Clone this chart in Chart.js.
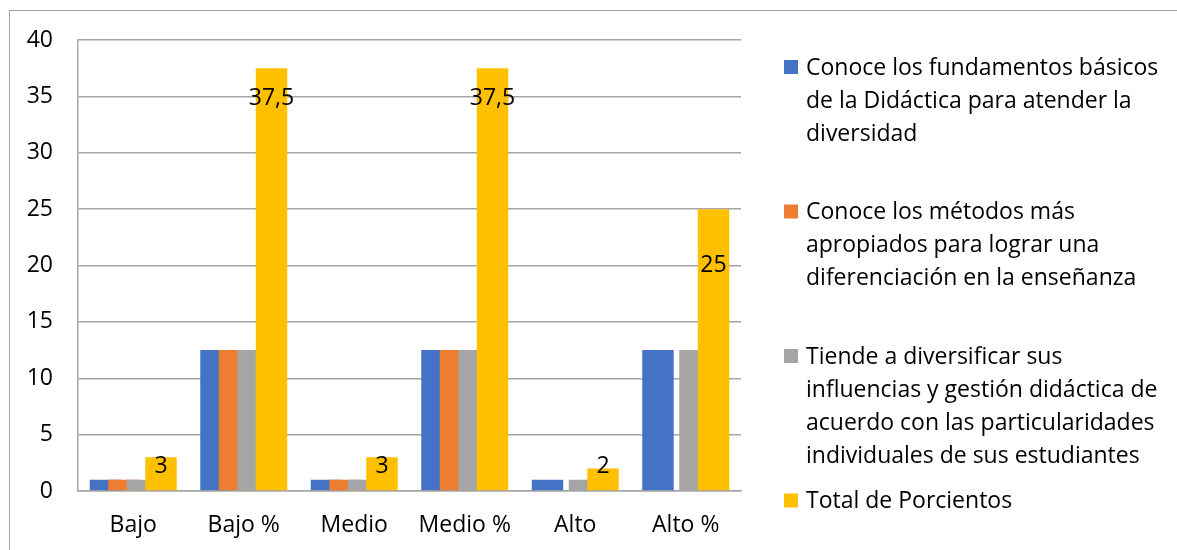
<!DOCTYPE html>
<html>
<head>
<meta charset="utf-8">
<script src="https://cdn.jsdelivr.net/npm/chart.js@4"></script>
<style>
  html, body { margin: 0; padding: 0; background: #fff; }
  #wrap { position: relative; width: 1177px; height: 550px; }
  #frame { position: absolute; left: 9px; top: 10px; right: -2px; bottom: -2px; border: 1px solid #a6a6a6; }
  canvas { position: absolute; left: 0; top: 0; }
</style>
</head>
<body>
<div id="wrap">
  <div id="frame"></div>
  <canvas id="grafico" width="1177" height="550"></canvas>
</div>
<script>
const categorias = ["Bajo", "Bajo %", "Medio", "Medio %", "Alto", "Alto %"];

const fundamentos = [1, 12.5, 1, 12.5, 1, 12.5];
const metodos = [1, 12.5, 1, 12.5, 0, 0];
const diversificar = [1, 12.5, 1, 12.5, 1, 12.5];
const totalPorcientos = [3, 37.5, 3, 37.5, 2, 25];

const yTicks = [0, 5, 10, 15, 20, 25, 30, 35, 40];

// texto de la leyenda, partido como en el original
const leyenda = [
    ["Conoce los fundamentos básicos", "de la Didáctica para atender la", "diversidad"],
    ["Conoce los métodos más", "apropiados para lograr una", "diferenciación en la enseñanza"],
    ["Tiende a diversificar sus", "influencias y gestión didáctica de", "acuerdo con las particularidades", "individuales de sus estudiantes"],
    ["Total de Porcientos"]
];

const colores = ["#4472C4", "#ED7D31", "#A5A5A5", "#FFC000"];
// desplazamiento vertical (px) de cada etiqueta respecto al tope de la barra
const ajusteEtiqueta = [9, 30, 9, 30, -2, 56];

const FUENTE = "'Open Sans', sans-serif";
const TAM = 23;

const etiquetasPlugin = {
    id: "etiquetas",
    // las barras se solapan: se pintan en orden de serie para que la última quede encima
    beforeDatasetsDraw(chart) {
        for (let i = 0; i < chart.data.datasets.length; i++) {
            chart.getDatasetMeta(i).controller.draw();
        }
        return false;
    },
    afterDraw(chart) {
        const ctx = chart.ctx;
        const meta = chart.getDatasetMeta(3);
        ctx.save();
        ctx.font = TAM + "px " + FUENTE;
        ctx.fillStyle = "#000";
        ctx.textAlign = "center";
        ctx.textBaseline = "middle";
        meta.data.forEach((bar, i) => {
            const txt = String(totalPorcientos[i]).replace(".", ",");
            ctx.fillText(txt, bar.x, bar.y + ajusteEtiqueta[i]);
        });
        ctx.restore();
    }
};

const leyendaPlugin = {
    id: "leyenda",
    afterDraw(chart) {
        const ctx = chart.ctx;
        ctx.save();
        ctx.font = TAM + "px " + FUENTE;
        ctx.textAlign = "left";
        ctx.textBaseline = "middle";
        leyenda.forEach((lineas, i) => {
            const y0 = 67 + i * 144.5;
            ctx.fillStyle = colores[i];
            ctx.fillRect(784, y0 - 7, 14, 14);
            ctx.fillStyle = "#000";
            lineas.forEach((l, j) => ctx.fillText(l, 806, y0 + 1 + j * 33));
        });
        ctx.restore();
    }
};

const series = [fundamentos, metodos, diversificar, totalPorcientos];

new Chart(document.getElementById("grafico"), {
    type: "bar",
    data: {
        labels: categorias,
        datasets: series.map((d, i) => ({
            label: leyenda[i].join(" "),
            data: d,
            backgroundColor: colores[i],
            categoryPercentage: 0.67,
            barPercentage: 1.7
        }))
    },
    options: {
        responsive: false,
        animation: false,
        layout: { padding: { left: 0, top: 40, right: 436, bottom: 0 } },
        plugins: { legend: { display: false }, tooltip: { enabled: false } },
        scales: {
            x: {
                grid: { display: false, drawTicks: false },
                border: { color: "#a6a6a6", width: 1.5 },
                ticks: { color: "#000", font: { family: FUENTE, size: TAM }, padding: 21, maxRotation: 0 },
                afterFit(s) { s.height = 59; }
            },
            y: {
                min: 0,
                max: 40,
                afterBuildTicks(s) { s.ticks = yTicks.map(v => ({ value: v })); },
                grid: { color: "#a6a6a6", lineWidth: 1.5, drawTicks: false },
                border: { color: "#a6a6a6", width: 1.5 },
                ticks: { color: "#000", font: { family: FUENTE, size: TAM }, padding: 25 },
                afterFit(s) { s.width = 78; }
            }
        }
    },
    plugins: [etiquetasPlugin, leyendaPlugin]
});
</script>
</body>
</html>
